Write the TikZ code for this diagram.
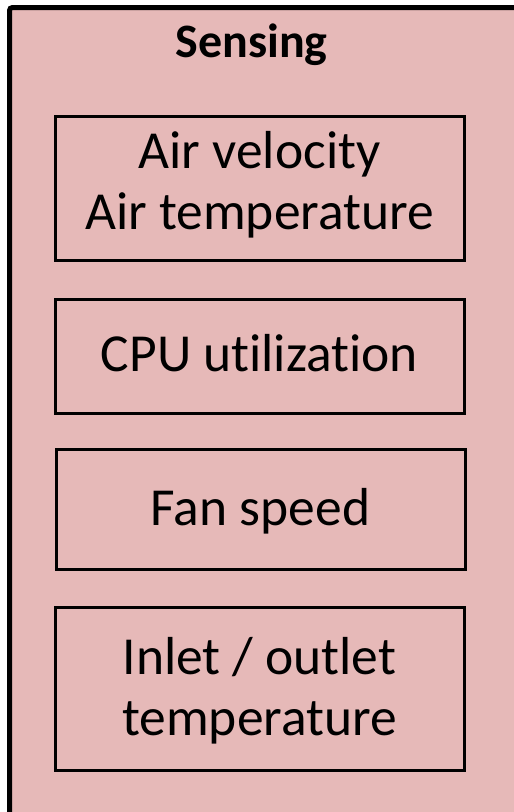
\documentclass[tikz,border=0pt]{standalone}
\usepackage{fontspec}
\setmainfont[Ligatures=NoCommon]{Carlito}
\definecolor{pinkfill}{HTML}{E6B9B8}
\begin{document}
\begin{tikzpicture}[x=1pt,y=-1pt,
  inbox/.style={draw=black,line width=3pt,fill=pinkfill},
  lbl/.style={font=\fontsize{53.5}{61}\selectfont,align=center,inner sep=0pt}]
\useasboundingbox (0,0) rectangle (514,812);
\clip (0,0) rectangle (514,812);
\draw[line width=5pt,fill=pinkfill,rounded corners=3pt] (9.5,7.5) rectangle (530,830);
\node[font=\fontsize{48}{56}\selectfont\bfseries,inner sep=0pt] (title) at (251.5,45) {Sensing};
\draw[inbox] (55,116) rectangle (464,260);
\draw[inbox] (55,299) rectangle (464,413);
\draw[inbox] (56,449) rectangle (465,569);
\draw[inbox] (55,607) rectangle (464,770);
\node[lbl] (b1) at (259.5,185) {Air velocity\\Air temperature};
\node[lbl] (b2) at (259.5,353) {CPU utilization};
\node[lbl] (b3) at (260.5,511) {Fan speed};
\node[lbl] (b4) at (259.5,691) {Inlet / outlet\\temperature};
\end{tikzpicture}
\end{document}
